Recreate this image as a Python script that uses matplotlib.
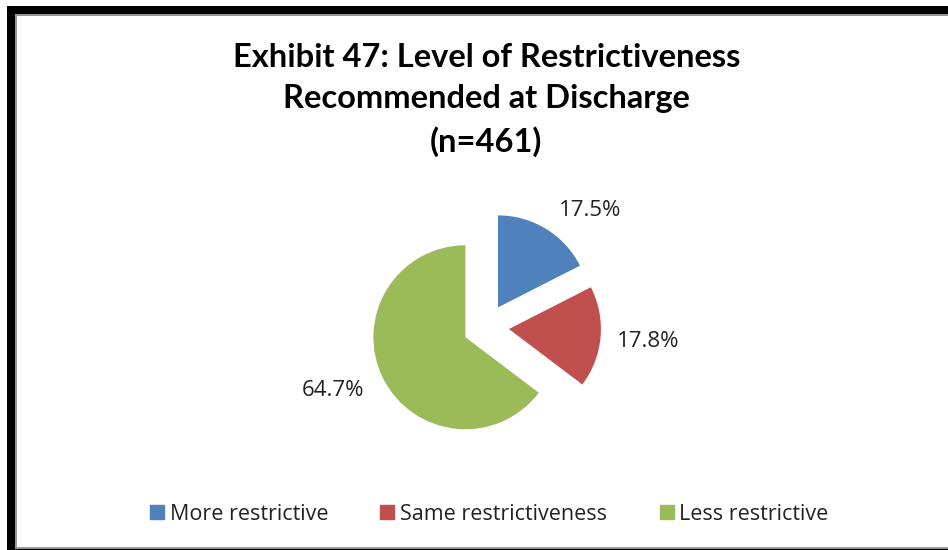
import numpy as np
import matplotlib.pyplot as plt
from matplotlib.patches import Rectangle
from matplotlib.lines import Line2D

# share of youth by level of restrictiveness recommended at discharge
categories = ['More restrictive', 'Same restrictiveness', 'Less restrictive']
shares = [17.5, 17.8, 64.7]
colors = ['#4F81BD', '#C0504D', '#9BBB59']
title = 'Exhibit 47: Level of Restrictiveness\nRecommended at Discharge\n(n=461)'

# label placement, relative to each wedge (angle offset in degrees, distance in radii)
label_offsets = [(-12, 1.45), (0, 1.52), (-4.5, 1.55)]

W, H = 948, 550
fig = plt.figure(figsize=(W / 100, H / 100), dpi=100)
fig.patch.set_facecolor('white')

# work in pixel units so the pie can be sized directly
ax = fig.add_axes([0, 0, 1, 1])

radius = 92
wedges, _ = ax.pie(shares, colors=colors, startangle=90, counterclock=False,
                   radius=radius, center=(486, 223), explode=[23, 23, 23],
                   frame=True)
ax.set_xlim(0, W)
ax.set_ylim(0, H)
ax.set_aspect('equal')
ax.axis('off')

for w, val, (dang, dist) in zip(wedges, shares, label_offsets):
    mid = np.deg2rad((w.theta1 + w.theta2) / 2 + dang)
    cx, cy = w.center
    ax.text(cx + dist * radius * np.cos(mid), cy + dist * radius * np.sin(mid),
            f'{val:.1f}%', ha='center', va='center', fontsize=16,
            family='Open Sans', color='#222222')

fig.text(0.513, 1 - 100 / H, title, ha='center', va='center', fontsize=23.5,
         fontweight='bold', family='Lato', linespacing=1.5)

handles = [Line2D([], [], marker='s', linestyle='', markersize=10,
                  markerfacecolor=c, markeredgecolor=c) for c in colors]
fig.legend(handles, categories, loc='center', bbox_to_anchor=(489 / W, 1 - 514 / H),
           ncol=3, frameon=False, prop={'family': 'Open Sans', 'size': 15.5},
           handletextpad=0.25, columnspacing=2.4, handlelength=0.7,
           labelcolor='#222222')

# chart frame: heavy black edge on the left/top/bottom with a grey inner line
fig.patches.extend([
    Rectangle((7 / W, 0), 8 / W, 1 - 6 / H, transform=fig.transFigure,
              facecolor='black', edgecolor='none'),
    Rectangle((7 / W, 1 - 14 / H), 1, 8 / H, transform=fig.transFigure,
              facecolor='black', edgecolor='none'),
    Rectangle((15 / W, 0), 2 / W, 1 - 14 / H, transform=fig.transFigure,
              facecolor='#999999', edgecolor='none'),
    Rectangle((15 / W, 1 - 16 / H), 1, 2 / H, transform=fig.transFigure,
              facecolor='#999999', edgecolor='none'),
    Rectangle((7 / W, 0), 1, 1.5 / H, transform=fig.transFigure,
              facecolor='black', edgecolor='none'),
    Rectangle((15 / W, 1.5 / H), 1, 1.5 / H, transform=fig.transFigure,
              facecolor='#999999', edgecolor='none'),
])

fig.savefig('out.png', dpi=100)
